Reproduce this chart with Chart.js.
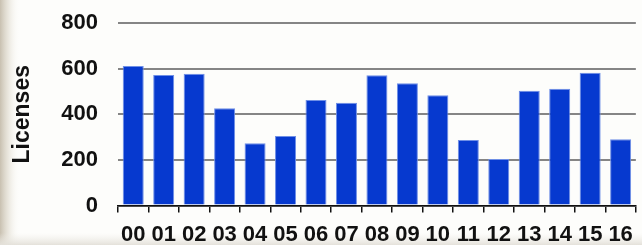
<!DOCTYPE html>
<html>
<head>
<meta charset="utf-8">
<script src="https://cdn.jsdelivr.net/npm/chart.js@4/dist/chart.umd.min.js"></script>
<style>
  html, body { margin: 0; padding: 0; background: #fdfdfb; }
  #wrap { width: 642px; height: 245px; }
</style>
</head>
<body>
<div id="wrap"><canvas id="licChart" width="642" height="245"></canvas></div>
<script>
// Années (2000 -> 2016) et nombre de licences
const years = ['00', '01', '02', '03', '04', '05', '06', '07', '08', '09', '10', '11', '12', '13', '14', '15', '16'];
const licenses = [612, 572, 578, 426, 273, 305, 463, 450, 571, 536, 483, 287, 204, 503, 512, 582, 290];
const yTicks = [0, 200, 400, 600, 800];

// Fond beige dégradé sur le bord gauche
const bgPlugin = {
    id: 'bg',
    beforeDraw(chart) {
        const c = chart.ctx;
        c.save();
        c.fillStyle = '#fdfdfb';
        c.fillRect(0, 0, chart.width, chart.height);
        let g = c.createLinearGradient(0, 0, 20, 0);
        g.addColorStop(0, 'rgba(200,192,176,1)');
        g.addColorStop(0.4, 'rgba(225,220,208,0.7)');
        g.addColorStop(1, 'rgba(253,253,251,0)');
        c.fillStyle = g;
        c.fillRect(0, 0, 20, chart.height);
        g = c.createLinearGradient(0, chart.height - 12, 0, chart.height);
        g.addColorStop(0, 'rgba(240,238,232,0)');
        g.addColorStop(1, 'rgba(228,225,218,1)');
        c.fillStyle = g;
        c.fillRect(0, chart.height - 12, chart.width, 12);
        c.restore();
    }
};

const labelFont = { family: '"Liberation Sans", Arial', size: 22, weight: 'bold' };

const ctx = document.getElementById('licChart').getContext('2d');
new Chart(ctx, {
    type: 'bar',
    data: {
        labels: years,
        datasets: [{
            label: 'Licenses',
            data: licenses,
            backgroundColor: '#0639cf',
            borderColor: '#6f8fe6',
            borderWidth: 1,
            categoryPercentage: 1,
            barPercentage: 0.69
        }]
    },
    options: {
        responsive: false,
        animation: false,
        layout: { padding: { top: 23, right: 5, left: 0, bottom: 0 } },
        plugins: { legend: { display: false }, tooltip: { enabled: false } },
        scales: {
            x: {
                grid: {
                    display: true,
                    drawOnChartArea: false,
                    drawTicks: true,
                    tickLength: 7,
                    color: '#111',
                    lineWidth: 1.5,
                    offset: true
                },
                border: { display: true, color: '#111', width: 1.5 },
                ticks: {
                    color: '#111',
                    font: labelFont,
                    padding: 9,
                    maxRotation: 0,
                    autoSkip: false
                },
                afterFit(scale) { scale.height = 39.5; }
            },
            y: {
                min: 0,
                max: 800,
                afterBuildTicks(scale) { scale.ticks = yTicks.map(v => ({ value: v })); },
                // tick marks invisibles : servent seulement d'écart entre libellés et zone du graphique
                grid: { color: '#858585', lineWidth: 2, drawTicks: true, tickLength: 20, tickColor: 'rgba(0,0,0,0)' },
                border: { display: false },
                ticks: {
                    color: '#111',
                    font: labelFont,
                    padding: 0
                },
                title: {
                    display: true,
                    text: 'Licenses',
                    color: '#111',
                    font: { family: '"Liberation Sans", Arial', size: 23, weight: 'bold' },
                    padding: { top: 9, bottom: 0 }
                },
                afterFit(scale) { scale.width = 118; }
            }
        }
    },
    plugins: [bgPlugin]
});
</script>
</body>
</html>
